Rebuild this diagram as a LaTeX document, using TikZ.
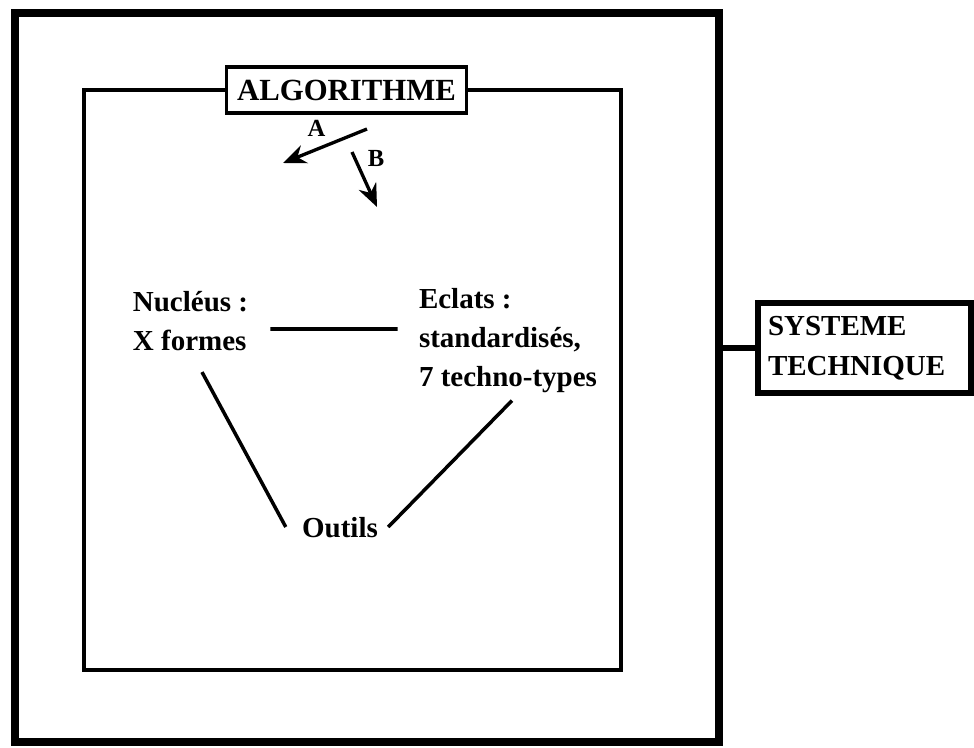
\documentclass[tikz,border=0pt]{standalone}
\usepackage{fontspec}
\setmainfont{Liberation Serif}
\usetikzlibrary{arrows.meta,positioning,calc}

\begin{document}
\begin{tikzpicture}[
          cadre/.style={draw,line width=4pt,minimum width=14.08cm,
                        minimum height=14.58cm,inner sep=0pt},
          zone/.style={draw,line width=2.2pt,minimum width=10.74cm,
                       minimum height=11.6cm,inner sep=0pt},
          titre/.style={draw,fill=white,line width=2pt,minimum width=4.8cm,
                        minimum height=0.92cm,inner sep=0pt,
                        font=\bfseries\fontsize{17.5}{21}\selectfont},
          tech/.style={draw,line width=3.4pt,text width=3.86cm,inner sep=0.2cm,
                       minimum height=1.8cm,align=left,
                       font=\bfseries\fontsize{16.5}{22.5}\selectfont},
          txt/.style={align=left,inner sep=2pt,
                      font=\bfseries\fontsize{16.5}{22.2}\selectfont},
          lien/.style={line width=2pt},
          fleche/.style={line width=1.9pt,-{Stealth[length=0.46cm,width=0.38cm]}},
          lettre/.style={font=\bfseries\fontsize{14}{16}\selectfont}]
          \useasboundingbox (0,0) rectangle (19.48,14.94);
          \node[cadre](systeme) at (7.34,7.39){};
          \node[zone](algo) at (7.05,7.34){};
          \node[titre](titre) at (6.93,13.14){ALGORITHME};
          \node[tech](tech) at (17.29,7.98){SYSTEME\\TECHNIQUE};
          \node[txt](nucleus) at (3.81,8.52){Nucléus :\\X formes};
          \node[txt](eclats) at (10.16,8.12){Eclats :\\standardisés,\\7 techno-types};
          \node[txt](outils) at (6.80,4.38){Outils};
          \coordinate (a0) at (7.34,12.36);
          \coordinate (a1) at (5.66,11.68);
          \coordinate (b0) at (7.04,11.90);
          \coordinate (b1) at (7.54,10.80);
          \draw[fleche] (a0)--(a1) node[lettre,pos=0.6,above=3pt]{A};
          \draw[fleche] (b0)--(b1) node[lettre,pos=0.12,right=3pt]{B};
          \draw[line width=3.4pt] (tech.west -| systeme.east)--(tech.west);
          \draw[lien]
            ($(nucleus.east)+(0.37,-0.16)$)--($(eclats.west|-nucleus.east)+(-0.35,-0.16)$)
            ($(nucleus.south)+(0.23,-0.35)$)--($(outils.west)+(-0.25,0.02)$)
            ($(eclats.south)+(0.08,-0.07)$)--($(outils.east)+(0.13,0.02)$);
        \end{tikzpicture}
\end{document}
